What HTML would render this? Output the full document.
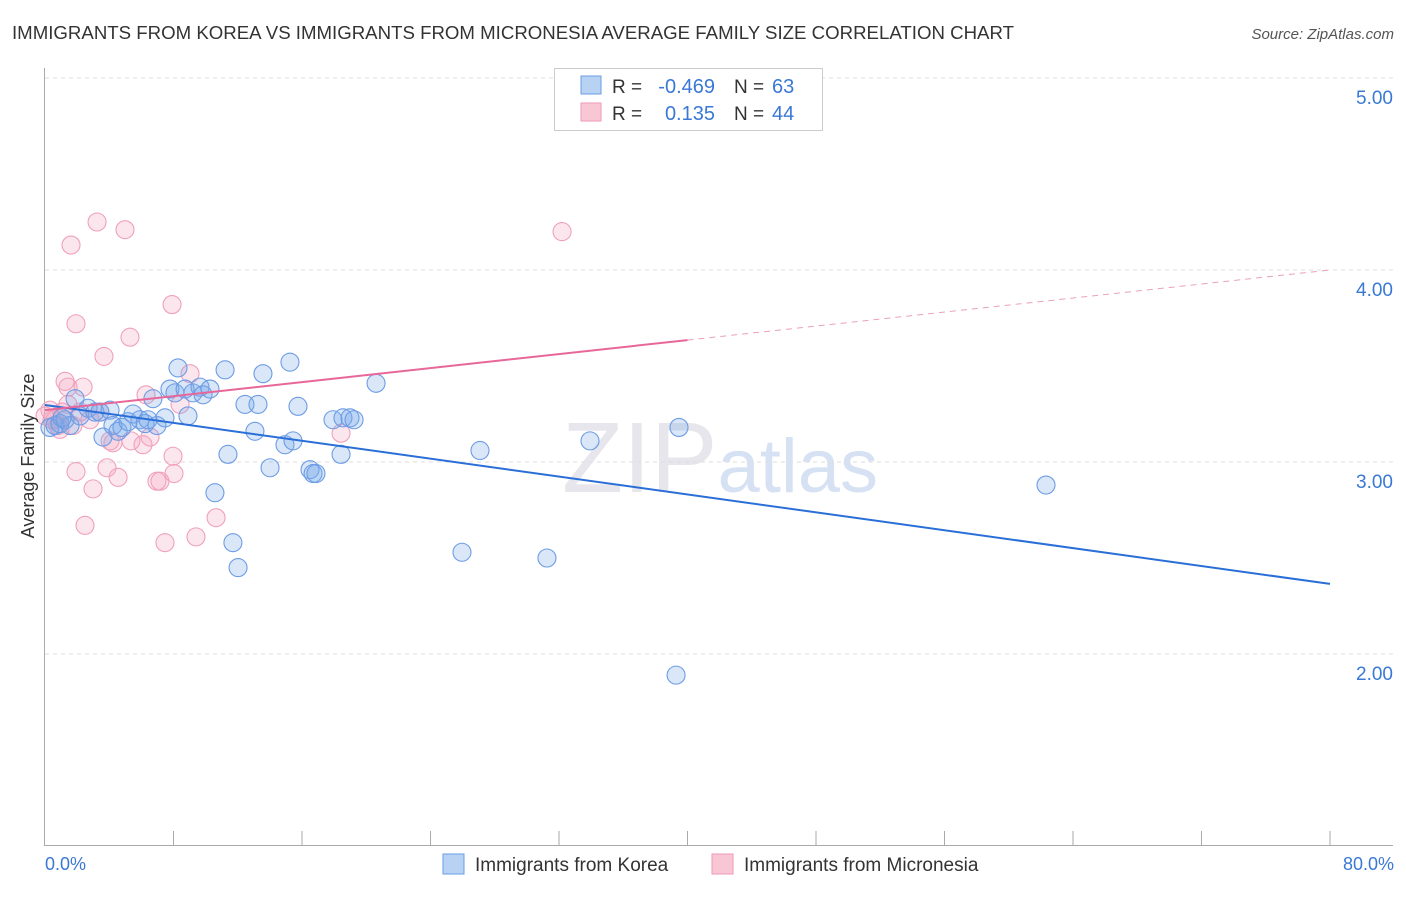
<!DOCTYPE html>
<html><head><meta charset="utf-8"><style>
body{margin:0;background:#fff;font-family:"Liberation Sans",sans-serif}
svg text{font-family:"Liberation Sans",sans-serif}
</style></head><body>
<svg id="c" width="1406" height="892" xmlns="http://www.w3.org/2000/svg">
<text x="12" y="39" font-size="18" fill="#333" textLength="1002" lengthAdjust="spacingAndGlyphs">IMMIGRANTS FROM KOREA VS IMMIGRANTS FROM MICRONESIA AVERAGE FAMILY SIZE CORRELATION CHART</text>
<text x="1394" y="39" font-size="15" fill="#555" text-anchor="end" font-style="italic">Source: ZipAtlas.com</text>
<text x="720" y="492" font-size="100" fill="#e6e6ec" text-anchor="middle" font-family="Liberation Serif">ZIP<tspan fill="#d6e2f4" font-family="Liberation Sans" font-size="76">atlas</tspan></text>
<g id="grid"></g><g id="pts"></g><g id="trend"></g>
<text transform="translate(34,456) rotate(-90)" font-size="18" fill="#333" text-anchor="middle">Average Family Size</text>
<text x="45" y="870" font-size="18" fill="#3a78d6">0.0%</text>
<text x="1394" y="870" font-size="18" fill="#3a78d6" text-anchor="end">80.0%</text>
<g>
<rect x="554.5" y="68.5" width="268" height="62" fill="#fff" stroke="#ccc"/>
<rect x="581" y="76" width="20" height="18" fill="#b8d2f4" stroke="#6a9ee6"/>
<rect x="581" y="103" width="20" height="18" fill="#f9c6d6" stroke="#ee9ab6"/>
<text x="612" y="93" font-size="19" fill="#333">R =</text>
<text x="715" y="93" font-size="20" fill="#3a78d6" text-anchor="end">-0.469</text>
<text x="734" y="93" font-size="19" fill="#333">N =</text>
<text x="772" y="93" font-size="20" fill="#3a78d6">63</text>
<text x="612" y="120" font-size="19" fill="#333">R =</text>
<text x="715" y="120" font-size="20" fill="#3a78d6" text-anchor="end">0.135</text>
<text x="734" y="120" font-size="19" fill="#333">N =</text>
<text x="772" y="120" font-size="20" fill="#3a78d6">44</text>
</g>
<g>
<rect x="443" y="854" width="21" height="20" fill="#b8d2f4" stroke="#6a9ee6"/>
<text x="475" y="871" font-size="19" fill="#333">Immigrants from Korea</text>
<rect x="712" y="854" width="21" height="20" fill="#f9c6d6" stroke="#ee9ab6"/>
<text x="744" y="871" font-size="19" fill="#333">Immigrants from Micronesia</text>
</g>
</svg>
<script>
const yTicks=[2,3,4,5];
const yTickLabels=["2.00","3.00","4.00","5.00"];
const blueX=[0.31,0.62,0.93,1.25,1.56,1.87,2.18,2.68,3.11,3.42,3.61,4.05,4.23,4.55,4.79,5.17,5.48,5.91,6.23,6.41,6.72,6.97,7.47,7.78,8.09,8.28,8.72,8.90,9.21,9.65,9.84,10.27,10.58,11.21,11.39,11.70,12.02,12.45,13.07,13.26,13.57,14.01,14.94,15.25,15.44,15.75,16.50,16.69,16.87,17.93,18.43,18.55,18.99,19.24,20.61,25.96,27.08,31.25,33.93,39.29,39.47,62.32,1.06];
const blueY=[3.18,3.19,3.20,3.22,3.19,3.33,3.24,3.28,3.26,3.26,3.13,3.27,3.19,3.16,3.18,3.21,3.25,3.22,3.20,3.22,3.33,3.19,3.23,3.38,3.36,3.49,3.38,3.24,3.36,3.39,3.35,3.38,2.84,3.48,3.04,2.58,2.45,3.30,3.16,3.30,3.46,2.97,3.09,3.52,3.11,3.29,2.96,2.94,2.94,3.22,3.04,3.23,3.23,3.22,3.41,2.53,3.06,2.50,3.11,1.89,3.18,2.88,3.23];
const pinkX=[0.31,0.62,0.81,1.06,1.25,1.43,1.62,1.74,1.93,1.93,2.18,2.37,2.49,2.80,2.99,3.24,3.42,3.67,3.86,4.05,4.23,4.55,4.98,5.29,5.35,6.10,6.29,6.54,6.97,7.16,7.47,7.91,7.97,8.03,8.41,9.03,9.40,10.65,18.43,32.19,0,0.93,0.44,1.43];
const pinkY=[3.27,3.22,3.19,3.26,3.42,3.39,4.13,3.19,2.95,3.72,3.26,3.39,2.67,3.22,2.86,4.25,3.26,3.55,2.97,3.11,3.10,2.92,4.21,3.65,3.11,3.09,3.35,3.13,2.90,2.90,2.58,3.82,3.03,2.94,3.30,3.46,2.61,2.71,3.15,4.20,3.24,3.17,3.22,3.30];
const blueTrend=[3.297,2.365];
const pinkTrend=[3.27,4.0];
const NS="http://www.w3.org/2000/svg";
const X=v=>45+v/80*1285, Y=v=>846-(v-1)*192;
function mk(t,a,p){const e=document.createElementNS(NS,t);for(const k in a)e.setAttribute(k,a[k]);p.appendChild(e);return e;}
const g=document.getElementById('grid');
yTicks.forEach((t,i)=>{
 const l=mk('line',{x1:45,x2:1393,y1:Y(t),y2:Y(t),stroke:'#ddd','stroke-dasharray':'4,4'},g);
 
 
 const tx=mk('text',{x:1393,y:Y(t)+26,'font-size':19,fill:'#3a78d6','text-anchor':'end'},g);
 tx.textContent=yTickLabels[i];
 
 
});
const ax=mk('line',{x1:45,x2:1393,y1:845.5,y2:845.5,stroke:'#aaa'},g);


const ay=mk('line',{x1:44.5,x2:44.5,y1:68,y2:846,stroke:'#aaa'},g);


for(let v=8;v<=80;v+=8){const t=mk('line',{x1:X(v),x2:X(v),y1:831,y2:846,stroke:'#aaa'},g);
 
 }
const p=document.getElementById('pts');
pinkX.forEach((x,i)=>{const c=mk('circle',{cx:X(x),cy:Y(pinkY[i]),r:9,fill:'rgba(244,165,192,0.28)',stroke:'#f0a0bc','stroke-width':1.1},p);
 
 });
blueX.forEach((x,i)=>{const c=mk('circle',{cx:X(x),cy:Y(blueY[i]),r:9,fill:'rgba(120,168,232,0.28)',stroke:'#6d9ce4','stroke-width':1.1},p);
 
 });
const tr=document.getElementById('trend');
const bl=mk('line',{x1:X(0),y1:Y(blueTrend[0]),x2:X(80),y2:Y(blueTrend[1]),stroke:'#2a6fd8','stroke-width':2},tr);


const pm=pinkTrend[0]+(pinkTrend[1]-pinkTrend[0])*40/80;
const pl=mk('line',{x1:X(0),y1:Y(pinkTrend[0]),x2:X(40),y2:Y(pm),stroke:'#e8679a','stroke-width':2},tr);


const pd=mk('line',{x1:X(40),y1:Y(pm),x2:X(80),y2:Y(pinkTrend[1]),stroke:'#eaa0bc','stroke-width':1,'stroke-dasharray':'6,5'},tr);


</script>
</body></html>
